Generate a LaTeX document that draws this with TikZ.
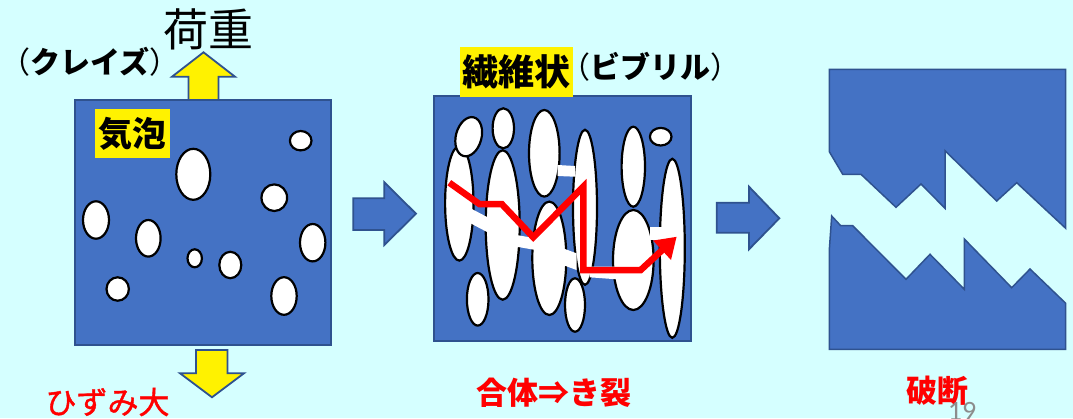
\documentclass[tikz,border=0pt]{standalone}
\usepackage{fontspec}
\newfontfamily\jp{Noto Sans CJK JP}
\newfontfamily\jpmedium[FakeBold=1.3]{Noto Sans CJK JP}
\newfontfamily\numfont{Carlito}
\usetikzlibrary{arrows.meta}
\definecolor{bgcyan}{RGB}{213,255,255}
\definecolor{slab}{HTML}{4472C4}
\definecolor{slabedge}{HTML}{2F528F}
\definecolor{pagegray}{RGB}{140,140,140}
\newcommand{\fs}[1]{\fontsize{#1}{#1}\selectfont}

\tikzset{
  slabbox/.style={fill=slab, draw=slabedge, line width=1.5pt, line join=miter},
  pore/.style={fill=white, draw=black, line width=2.2pt},
  bridge/.style={fill=white, draw=none},
  loadarrow/.style={fill=yellow, draw=slabedge, line width=1.8pt, line join=miter},
  stagearrow/.style={fill=slab, draw=slabedge, line width=1.8pt, line join=miter},
  crackpath/.style={draw=red, line width=6.5pt, line join=miter,
    -{Triangle[length=20pt,width=25pt]}},
  tag/.style={fill=yellow, inner sep=0pt, text=black},
  plain/.style={inner sep=0pt, text=black},
  result/.style={inner sep=0pt, text=red},
}

\begin{document}
\begin{tikzpicture}[x=1pt,y=-1pt]
  % canvas
  \useasboundingbox (0,0) rectangle (1073,418);
  \fill[bgcyan] (0,0) rectangle (1073,418);

  % ---------- stage 1: bubbles under load ----------
  \draw[loadarrow] (188.5,100) -- (188.5,76.7) -- (172,76.7) -- (203.5,52.3)
    -- (235,76.7) -- (218.5,76.7) -- (218.5,100);
  \draw[slabbox] (75,100) rectangle (331,345);
  \draw[loadarrow] (196,350) -- (227.5,350) -- (227.5,373.3) -- (244,373.3)
    -- (212,397.3) -- (180,373.3) -- (196,373.3) -- cycle;

  \draw[pore] (300.7,140.7) ellipse [x radius=10.8, y radius=9.7];
  \draw[pore] (193.3,174.3) ellipse [x radius=17,   y radius=25.5];
  \draw[pore] (274.3,197.7) ellipse [x radius=12.8, y radius=13.3];
  \draw[pore] (96,220)      ellipse [x radius=13,   y radius=18.7];
  \draw[pore] (148.3,238.3) ellipse [x radius=12.3, y radius=18.3];
  \draw[pore] (312.7,242.7) ellipse [x radius=12.7, y radius=18.7];
  \draw[pore] (194.7,258.3) ellipse [x radius=7.2,  y radius=9];
  \draw[pore] (230.3,265)   ellipse [x radius=11,   y radius=13.2];
  \draw[pore] (117.7,289)   ellipse [x radius=11.2, y radius=11.7];
  \draw[pore] (284,296)     ellipse [x radius=12.7, y radius=18.8];

  \node[tag, minimum width=75pt, minimum height=49pt,
        font=\jp\bfseries\fs{34}] (bubbletag) at (132.5,133.5) {気泡};
  \node[plain, font=\jp\fs{45}] (load) at (208,29) {荷重};
  \node[plain, font=\jp\fs{30}] (craze) at (90,62) {（{\bfseries クレイズ}）};
  \node[result, font=\jpmedium\fs{31}] (strain) at (107.5,402) {ひずみ大};

  % ---------- arrow to stage 2 ----------
  \draw[stagearrow] (353.3,198.3) -- (384.3,198.3) -- (384.3,182.3) -- (416,213.7)
    -- (384.3,245) -- (384.3,230) -- (353.3,230) -- cycle;

  % ---------- stage 2: fibrils ----------
  \draw[slabbox] (434,96) rectangle (691,341);

  \draw[pore] (459.3,203.3) ellipse [x radius=14.2, y radius=57.3];
  \draw[pore, shift={(468.7,136.7)}, rotate=-15] (0,0) ellipse [x radius=12.8, y radius=20];
  \draw[pore] (502.7,225)   ellipse [x radius=17,   y radius=74.7];
  \draw[pore] (503.3,128.3) ellipse [x radius=10.7, y radius=20];
  \draw[pore] (544.3,153.3) ellipse [x radius=15.3, y radius=43.3];
  \draw[pore] (549.3,258.3) ellipse [x radius=17,   y radius=56.7];
  \draw[pore] (585,207.3)   ellipse [x radius=12,   y radius=77.5];
  \draw[pore] (477.7,299.3) ellipse [x radius=10.8, y radius=26.3];
  \draw[pore] (575,305)     ellipse [x radius=10,   y radius=26.7];
  \draw[pore] (633.3,166.7) ellipse [x radius=11.7, y radius=40];
  \draw[pore] (633.3,260)   ellipse [x radius=20.3, y radius=50];
  \draw[pore] (672.3,248.3) ellipse [x radius=12.5, y radius=89.5];
  \draw[pore] (660.7,136.7) ellipse [x radius=10.8, y radius=8.8];

  % merged fibrils
  \fill[bridge] (470.5,208.3) -- (489.5,218.3) -- (489.5,233.3) -- (470.5,223.3) -- cycle;
  \fill[bridge] (516.5,235) -- (535.5,238.3) -- (535.5,250) -- (516.5,246.7) -- cycle;
  \fill[bridge] (557.5,165) -- (575,166) -- (575,176.7) -- (557.5,176) -- cycle;
  \fill[bridge] (563,248.3) -- (576.5,253.3) -- (576.5,270) -- (563,265) -- cycle;
  \fill[bridge] (589.5,266.7) -- (616.5,266.7) -- (616.5,279.3) -- (589.5,277.3) -- cycle;
  \fill[bridge] (650,226.7) -- (663.5,226.7) -- (663.5,240) -- (650,240) -- cycle;

  \coordinate (crackstart) at (449.3,182.7);
  \coordinate (crackend) at (676.7,236.7);
  \draw[crackpath] (crackstart) -- (479.3,204) -- (501.7,204) -- (533.3,237.3)
    -- (583.3,186.7) -- (583.3,270) -- (640.7,270) -- (crackend);

  \node[tag, minimum width=113pt, minimum height=50pt,
        font=\jp\bfseries\fs{36}] (fibriltag) at (516.5,72) {繊維状};
  \node[plain, font=\jp\fs{30}] (fibril) at (650,66.5) {（{\bfseries ビブリル}）};
  \node[result, font=\jp\bfseries\fs{31}] (merge) at (554,392.5) {合体⇒き裂};

  % ---------- arrow to stage 3 ----------
  \draw[stagearrow] (716.7,202.7) -- (749,202.7) -- (749,186.7) -- (779.3,218.3)
    -- (749,249.3) -- (749,232.7) -- (716.7,232.7) -- cycle;

  % ---------- stage 3: fracture ----------
  \draw[slabbox] (829.3,69.3) -- (1065.7,69.3) -- (1065.7,228.3) -- (1016.7,182.7)
    -- (996.7,201) -- (945,150.7) -- (945,208.3) -- (921,184) -- (896,207.3)
    -- (861,174.3) -- (842.7,174.3) -- (829.3,151.7) -- cycle;
  \draw[slabbox] (831.7,216) -- (840.7,225.7) -- (852.7,225.7) -- (906,279.3)
    -- (930,254.3) -- (964.3,289.3) -- (964.3,239) -- (1011.7,287.7) -- (1030,269)
    -- (1065.7,303.3) -- (1065.7,349.3) -- (829.3,349.3) -- (829.3,250) -- cycle;

  \node[result, font=\jp\bfseries\fs{31}] (fracture) at (937,391) {破断};
  \node[inner sep=0pt, text=pagegray, font=\numfont\fs{28}, anchor=base]
    (pageno) at (962,420.6) {19};
\end{tikzpicture}
\end{document}
